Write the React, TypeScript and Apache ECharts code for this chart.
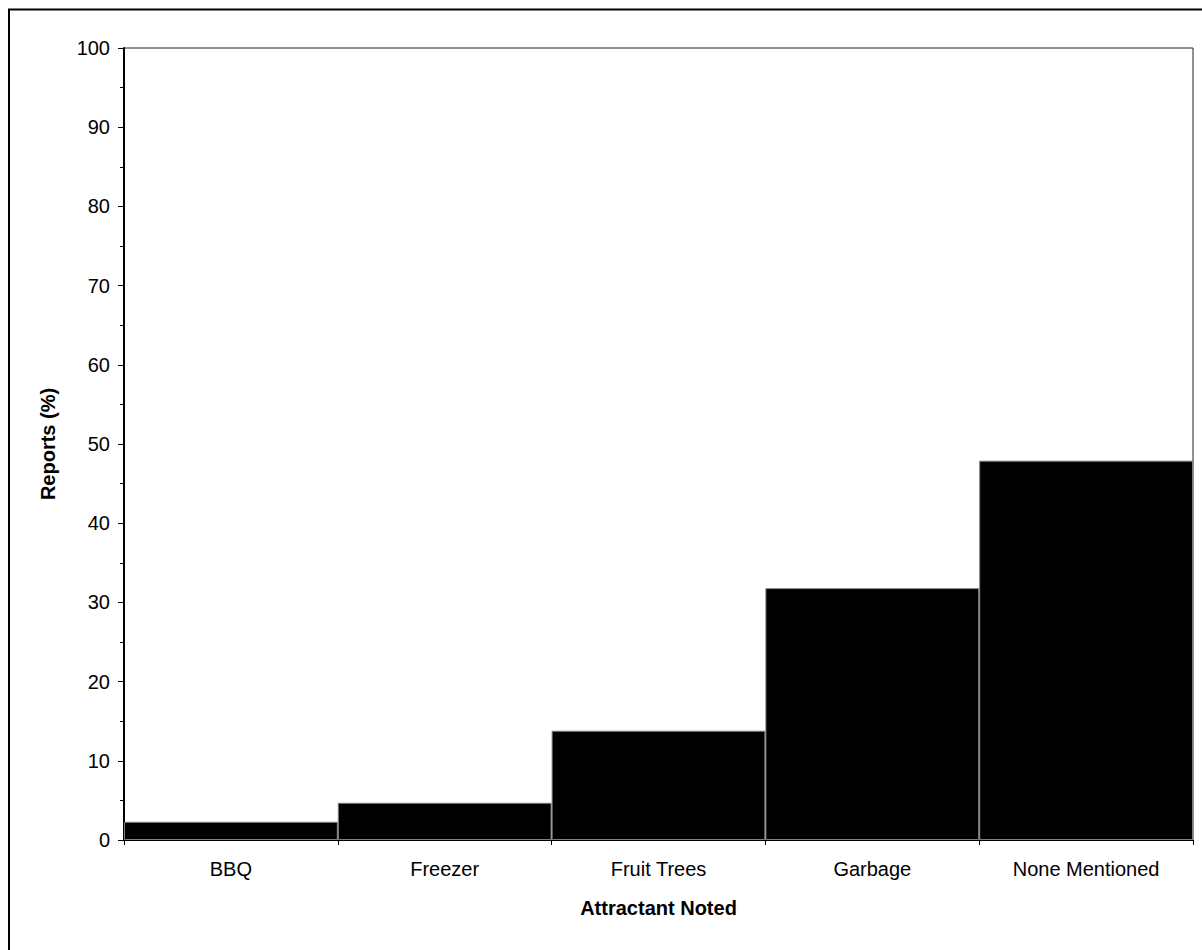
import React, { useEffect, useRef } from "react";
import * as echarts from "echarts";

const categories = ["BBQ", "Freezer", "Fruit Trees", "Garbage", "None Mentioned"];
const reports = [2.3, 4.7, 13.8, 31.8, 47.9];
const xTitle = "Attractant Noted";
const yTitle = "Reports (%)";

export default function App() {
  const ref = useRef<HTMLDivElement>(null);
  useEffect(() => {
    const chart = echarts.init(ref.current!, null, { renderer: "svg" });
    const font = "Arial, 'Liberation Sans', sans-serif";
    chart.setOption({
      animation: false,
      backgroundColor: "#fff",
      graphic: [
        {
          type: "rect",
          shape: { x: 9, y: 9.5, width: 1210, height: 960 },
          style: { fill: "none", stroke: "#000", lineWidth: 2 },
          silent: true,
        },
      ],
      grid: {
        left: 124,
        top: 48,
        right: 9,
        bottom: 110,
        show: true,
        borderColor: "#222",
        borderWidth: 1,
        backgroundColor: "#fff",
      },
      xAxis: {
        type: "category",
        data: categories,
        boundaryGap: true,
        name: xTitle,
        nameLocation: "middle",
        nameGap: 58,
        nameTextStyle: { fontFamily: font, fontSize: 20, fontWeight: "bold", color: "#000" },
        axisLine: { lineStyle: { color: "#000", width: 1 } },
        axisTick: { show: true, inside: false, length: 5, lineStyle: { color: "#000" } },
        axisLabel: { fontFamily: font, fontSize: 20, color: "#000", margin: 19 },
        splitLine: { show: false },
      },
      yAxis: {
        type: "value",
        min: 0,
        max: 100,
        interval: 10,
        name: yTitle,
        nameLocation: "middle",
        nameGap: 66,
        nameTextStyle: { fontFamily: font, fontSize: 20, fontWeight: "bold", color: "#000" },
        axisLine: { show: true, lineStyle: { color: "#000", width: 2 } },
        axisTick: { show: true, inside: false, length: 6, lineStyle: { color: "#000" } },
        minorTick: { show: true, splitNumber: 2, length: 4, lineStyle: { color: "#000" } },
        axisLabel: { fontFamily: font, fontSize: 20, color: "#000", margin: 14 },
        splitLine: { show: false },
      },
      series: [
        {
          type: "bar",
          data: reports,
          barCategoryGap: "0%",
          itemStyle: { color: "#000", borderColor: "#808080", borderWidth: 1 },
        },
      ],
    });
    return () => chart.dispose();
  }, []);
  return (
    <div
      ref={ref}
      style={{ position: "fixed", left: 0, top: 0, width: 1202, height: 950 }}
    />
  );
}
